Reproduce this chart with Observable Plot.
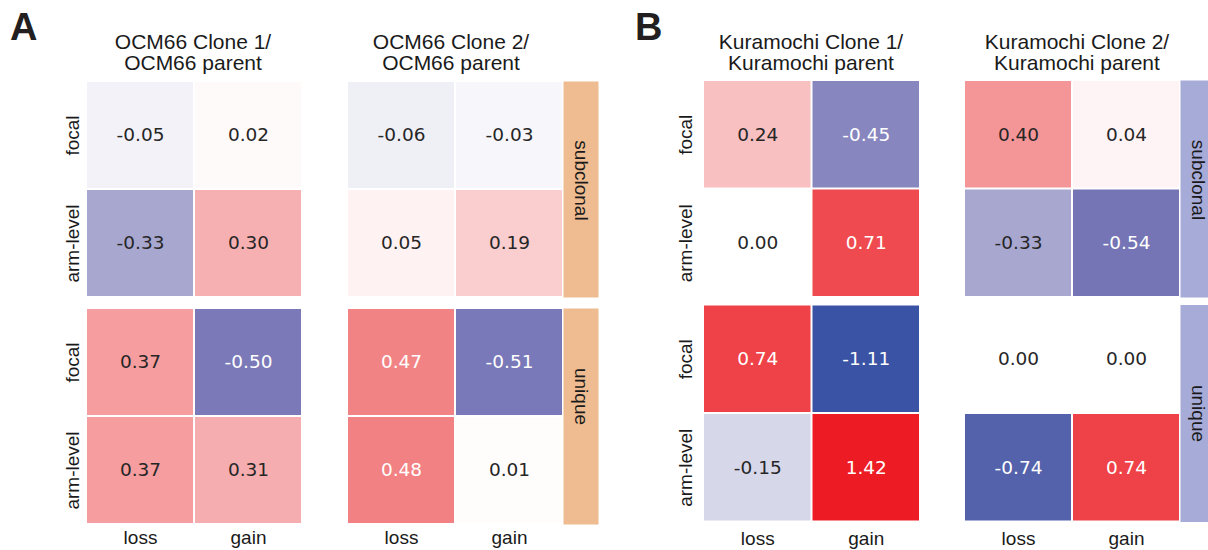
<!DOCTYPE html>
<html>
<head>
<meta charset="utf-8">
<script src="https://cdn.jsdelivr.net/npm/d3@7"></script>
<script src="https://cdn.jsdelivr.net/npm/@observablehq/plot@0.6"></script>
<style>
  html, body { margin: 0; padding: 0; background: #fff; overflow: hidden; }
  #root { position: relative; width: 1208px; height: 550px; overflow: hidden; font-family: "Liberation Sans", Arial, sans-serif; color: #1a1a1a; }
  .abs { position: absolute; }
  .abs svg { display: block; max-width: none !important; }
  .title { position: absolute; width: 300px; text-align: center; font-size: 21px; line-height: 21.5px; white-space: nowrap; color: #1a1a1a; }
  .letter { position: absolute; font-weight: bold; font-size: 38px; line-height: 38px; color: #231f20; }
</style>
</head>
<body>
<div id="root"></div>
<script>
// ---- data ----
const columns = ["loss", "gain"];
const levels = ["focal", "arm-level"];
const groups = ["subclonal", "unique"];

const titleOCM1 = ["OCM66 Clone 1/", "OCM66 parent"];
const titleOCM2 = ["OCM66 Clone 2/", "OCM66 parent"];
const titleKura1 = ["Kuramochi Clone 1/", "Kuramochi parent"];
const titleKura2 = ["Kuramochi Clone 2/", "Kuramochi parent"];

// order: subclonal focal (loss, gain), subclonal arm-level (loss, gain), unique focal (loss, gain), unique arm-level (loss, gain)
const valuesOCM1 = [-0.05, 0.02, -0.33, 0.30, 0.37, -0.50, 0.37, 0.31];
const valuesOCM2 = [-0.06, -0.03, 0.05, 0.19, 0.47, -0.51, 0.48, 0.01];
const valuesKura1 = [0.24, -0.45, 0.00, 0.71, 0.74, -1.11, -0.15, 1.42];
const valuesKura2 = [0.40, 0.04, -0.33, -0.54, 0.00, 0.00, -0.74, 0.74];

const panelLetters = ["A", "B"];

// ---- colour scale ----
const colorStops = [-0.9, -0.5, 0, 0.47, 0.9];
const colorRange = ["#3a53a4", "#7b79b8", "#ffffff", "#f28385", "#ed1c24"];
const colorFn = d3.scaleLinear(colorStops, colorRange).interpolate(d3.interpolateRgb).clamp(true);
function luminance(c) {
  const rgb = d3.rgb(c);
  const lin = v => { v /= 255; return v <= 0.03928 ? v / 12.92 : Math.pow((v + 0.055) / 1.055, 2.4); };
  return 0.2126 * lin(rgb.r) + 0.7152 * lin(rgb.g) + 0.0722 * lin(rgb.b);
}
const isLight = d => luminance(colorFn(d.value)) > 0.39;

function toRows(values) {
  const rows = [];
  let i = 0;
  for (const g of groups) for (const l of levels) for (const c of columns)
    rows.push({group: g, level: l, col: c, value: values[i++]});
  return rows;
}

// ---- layout ----
const panels = [
  {title: titleOCM1, values: valuesOCM1, left: 86, top: 81, w: 216, band: 216, gap: 11, rowLabels: true, labelDx: -8, tickPad: 6, titleX: 193},
  {title: titleOCM2, values: valuesOCM2, left: 347, top: 81, w: 216, band: 216, gap: 11, rowLabels: false, tickPad: 6, titleX: 451, strip: "#eebc90", stripDy: [-9, -20]},
  {title: titleKura1, values: valuesKura1, left: 703, top: 80, w: 217, band: 217, gap: 7.5, rowLabels: true, labelDx: -12, tickPad: 9.5, titleX: 811},
  {title: titleKura2, values: valuesKura2, left: 964, top: 80, w: 216, band: 217, gap: 7.5, rowLabels: false, tickPad: 9.5, titleX: 1077, strip: "#a7abd8", stripDy: [-9, 0]}
];
const letters = [{t: panelLetters[0], x: 10}, {t: panelLetters[1], x: 635}];

const root = document.getElementById("root");
const mL = 40, mB = 40;
const baseStyle = {fontFamily: "'Liberation Sans', Arial, sans-serif", fontSize: "19px", color: "#1a1a1a", background: "transparent", overflow: "visible", maxWidth: "none"};
const numFont = "'DejaVu Sans', sans-serif";
const numSize = 18.5;

for (const p of panels) {
  const rows = toRows(p.values);
  const H = 2 * p.band + p.gap;
  const fyScale = {domain: groups, paddingInner: p.gap / (p.band + p.gap), paddingOuter: 0, round: false, axis: null};
  const marks = [
    Plot.cell(rows, {x: "col", y: "level", fy: "group", fill: "value", inset: 1}),
    Plot.text(rows.filter(isLight), {x: "col", y: "level", fy: "group", text: d => d.value.toFixed(2), fill: "#262626", fontSize: numSize, fontFamily: numFont}),
    Plot.text(rows.filter(d => !isLight(d)), {x: "col", y: "level", fy: "group", text: d => d.value.toFixed(2), fill: "#ffffff", fontSize: numSize, fontFamily: numFont})
  ];
  if (p.rowLabels) {
    marks.push(Plot.text(levels, {y: d => d, text: d => d, frameAnchor: "left", dx: p.labelDx, rotate: -90, textAnchor: "middle", lineAnchor: "bottom", fontSize: 19, fill: "#1a1a1a"}));
  }
  const chart = Plot.plot({
    width: mL + p.w,
    height: H + mB,
    marginLeft: mL, marginRight: 0, marginTop: 0, marginBottom: mB,
    style: baseStyle,
    x: {domain: columns, padding: 0, round: false, tickSize: 0, tickPadding: p.tickPad, label: null},
    y: {domain: levels, padding: 0, round: false, axis: null},
    fy: fyScale,
    color: {type: "linear", domain: colorStops, range: colorRange, interpolate: "rgb", clamp: true},
    marks
  });
  const wrap = document.createElement("div");
  wrap.className = "abs";
  wrap.style.left = (p.left - mL) + "px";
  wrap.style.top = p.top + "px";
  wrap.style.width = (mL + p.w) + "px";
  wrap.appendChild(chart);
  root.appendChild(wrap);

  if (p.strip) {
    const stripW = 35;
    const stripMarks = [Plot.frame({fill: p.strip, stroke: "none"})];
    groups.forEach((g, i) => {
      stripMarks.push(Plot.text([g], {fy: d => d, text: d => d, frameAnchor: "middle", rotate: 90, dy: p.stripDy[i], fontSize: 19, fill: "#1a1a1a"}));
    });
    const strip = Plot.plot({
      width: stripW, height: H,
      margin: 0,
      style: baseStyle,
      fy: fyScale,
      marks: stripMarks
    });
    const sw = document.createElement("div");
    sw.className = "abs";
    sw.style.left = (p.left + p.w) + "px";
    sw.style.top = p.top + "px";
    sw.style.width = stripW + "px";
    sw.appendChild(strip);
    root.appendChild(sw);
  }

  const t = document.createElement("div");
  t.className = "title";
  t.style.left = (p.titleX - 150) + "px";
  t.style.top = "30.5px";
  t.innerHTML = p.title.join("<br>");
  root.appendChild(t);
}

for (const l of letters) {
  const d = document.createElement("div");
  d.className = "letter";
  d.style.left = l.x + "px";
  d.style.top = "8px";
  d.textContent = l.t;
  root.appendChild(d);
}
</script>
</body>
</html>
